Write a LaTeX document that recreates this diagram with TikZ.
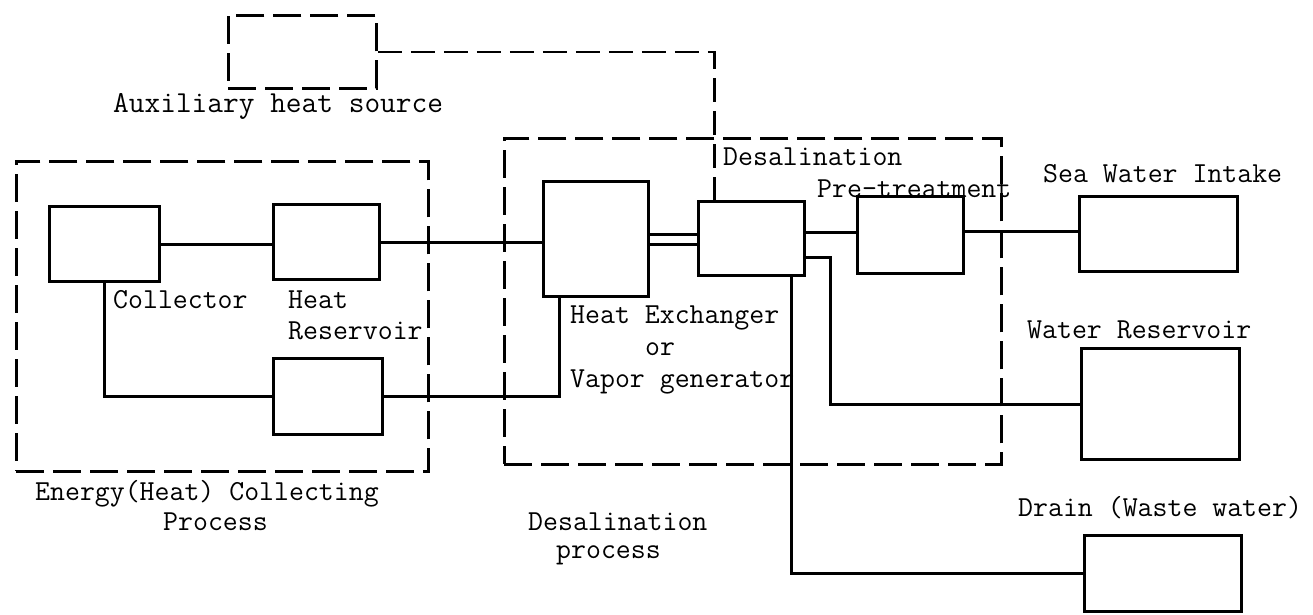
\documentclass[tikz,border=0pt]{standalone}
\usepackage{fontspec}
\begin{document}
\begin{tikzpicture}[x=1pt,y=-1pt,
  box/.style={draw, line width=3.2pt, inner sep=0pt, anchor=north west},
  region/.style={draw, line width=2.8pt, dash pattern=on 28pt off 9pt, inner sep=0pt, anchor=north west},
  pipe/.style={line width=3pt},
  auxpipe/.style={line width=2.8pt, dash pattern=on 24pt off 9pt},
  lbl/.style={font=\ttfamily\fontsize{29}{32}\selectfont, inner sep=0pt, anchor=base west}]
\useasboundingbox (0,0) rectangle (1313,614);

% process regions
\node[region, minimum width=412pt, minimum height=310pt] (energy) at (15,160) {};
\node[region, minimum width=497pt, minimum height=326pt] (desal) at (503,137) {};
\node[region, minimum width=148pt, minimum height=73pt] (aux) at (227,14) {};

% units
\node[box, minimum width=110pt, minimum height=75pt] (coll) at (48,205) {};
\node[box, minimum width=106pt, minimum height=75pt] (hr) at (272,203) {};
\node[box, minimum width=109pt, minimum height=76pt] (ret) at (272,357) {};
\node[box, minimum width=105pt, minimum height=115pt] (hx) at (542,180) {};
\node[box, minimum width=106pt, minimum height=74pt] (evap) at (697,200) {};
\node[box, minimum width=106pt, minimum height=77pt] (pre) at (856,195) {};
\node[box, minimum width=158pt, minimum height=75pt] (sea) at (1078,195) {};
\node[box, minimum width=158pt, minimum height=111pt] (wres) at (1080,347) {};
\node[box, minimum width=157pt, minimum height=76pt] (drain) at (1083,534) {};

% connectors
\draw[pipe] (coll.east) -- (coll.east -| hr.west);
\draw[pipe] (hr.east) -- (hr.east -| hx.west);
\draw[pipe] (coll.south) |- (ret.west);
\draw[pipe] (ret.east) -| ([xshift=-36.5pt]hx.south);
\draw[pipe] ([yshift=5pt]hx.east) -- ([yshift=5pt]hx.east -| evap.west);
\draw[pipe] ([yshift=-5pt]hx.east) -- ([yshift=-5pt]hx.east -| evap.west);
\draw[pipe] ([yshift=6pt]evap.east) -- ([yshift=6pt]evap.east -| pre.west);
\draw[pipe] ([yshift=4pt]pre.east) -- ([yshift=4pt]pre.east -| sea.west);
\draw[pipe] ([yshift=-19pt]evap.east) -- ++(24,0) |- (wres.west);
\draw[pipe] ([xshift=40pt]evap.south) |- (drain.west);
\draw[auxpipe] (aux.east) -| ([xshift=-37pt]evap.north);

% labels
\node[lbl, font=\ttfamily\fontsize{30.5}{32}\selectfont] (laux) at (113,112) {Auxiliary heat source};
\node[lbl] (lcoll) at (113,308) {Collector};
\node[lbl] (lhr1) at (288,308) {Heat};
\node[lbl] (lhr2) at (288,339) {Reservoir};
\node[lbl] (len1) at (35,500) {Energy(Heat) Collecting};
\node[lbl] (len2) at (163,530) {Process};
\node[lbl] (lhx1) at (570,323) {Heat Exchanger};
\node[lbl] (lhx2) at (645,355) {or};
\node[lbl] (lhx3) at (570,387) {Vapor generator};
\node[lbl] (ldes) at (723,165) {Desalination};
\node[lbl] (lpre) at (817,197) {Pre-treatment};
\node[lbl] (lsea) at (1043,182) {Sea Water Intake};
\node[lbl] (lwr) at (1027,338) {Water Reservoir};
\node[lbl] (ldr) at (1018,516) {Drain (Waste water)};
\node[lbl] (ldp1) at (528,530) {Desalination};
\node[lbl] (ldp2) at (556,558) {process};
\end{tikzpicture}
\end{document}
